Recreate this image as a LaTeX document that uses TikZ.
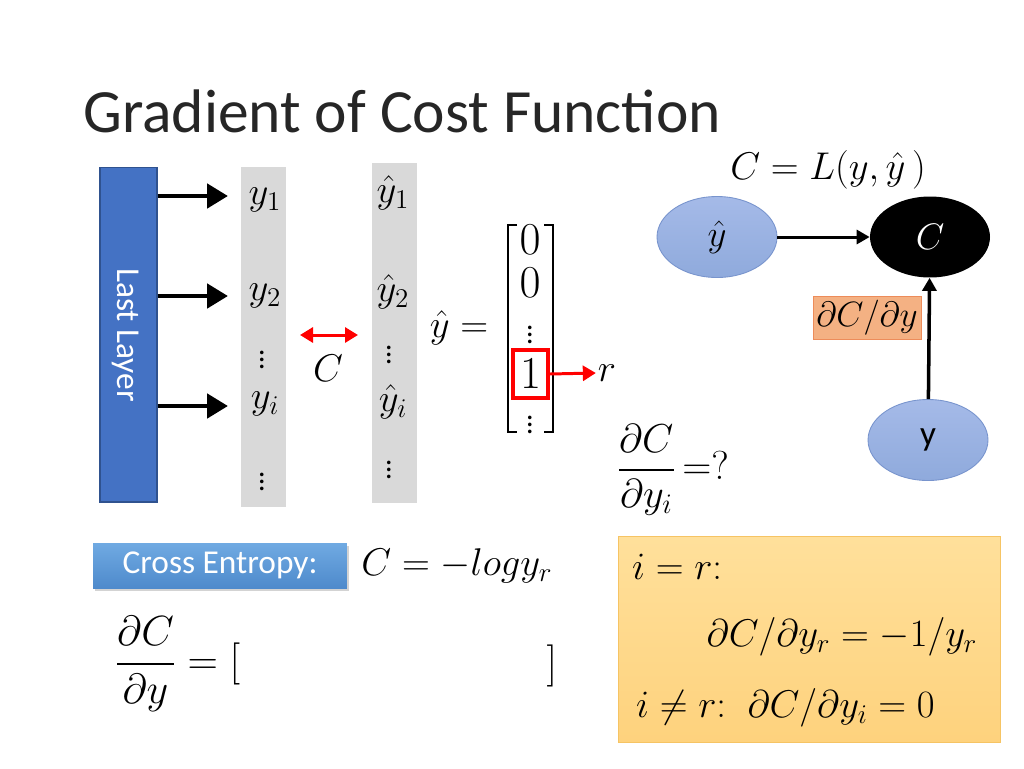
\documentclass[tikz,border=0pt]{standalone}
\usepackage{fix-cm}
\usepackage{amsmath}
\usepackage{fontspec}
\setmainfont{Carlito}
\usetikzlibrary{arrows.meta,shapes,shadows}
\definecolor{layerblue}{RGB}{68,114,196}
\definecolor{layeredge}{RGB}{47,82,143}
\definecolor{colgray}{RGB}{217,217,217}
\definecolor{nodeblue}{RGB}{143,170,220}
\definecolor{nodebluetop}{RGB}{165,186,232}
\definecolor{nodeedge}{RGB}{120,148,205}
\definecolor{gradorange}{RGB}{244,177,131}
\definecolor{gradedge}{RGB}{237,140,90}
\definecolor{cetop}{RGB}{112,170,226}
\definecolor{cebottom}{RGB}{78,138,204}
\definecolor{notetop}{RGB}{255,224,155}
\definecolor{notebottom}{RGB}{254,210,125}
\definecolor{noteedge}{RGB}{246,196,100}
\definecolor{arrowred}{RGB}{255,0,0}

\begin{document}
\begin{tikzpicture}[x=0.02cm, y=-0.02cm,
layer/.style={rectangle, fill=layerblue, draw=layeredge, line width=0.6pt, minimum width=1.14cm, minimum height=6.7cm},
column/.style={rectangle, fill=colgray, minimum width=0.9cm, minimum height=6.8cm},
math node/.style={font=\fontsize{22}{26}\selectfont, inner sep=1pt},
entry/.style={font=\fontsize{26}{30}\selectfont, inner sep=0pt},
dots/.style={font=\fontsize{17}{20}\selectfont, inner sep=0pt},
fat arrow/.style={line width=2.8pt, -{Triangle[length=0.42cm,width=0.48cm]}},
red arrow/.style={arrowred, line width=1.7pt, -{Triangle[length=0.26cm,width=0.3cm]}},
link/.style={line width=1.7pt, -{Triangle[length=0.26cm,width=0.28cm]}},
var node/.style={ellipse, minimum width=2.4cm, minimum height=1.62cm, top color=nodebluetop, bottom color=nodeblue, draw=nodeedge, line width=0.5pt, font=\fontsize{21}{25}\selectfont},
bracket/.style={line width=1.4pt}]
\useasboundingbox (0,0) rectangle (1024,768);

\node[anchor=base west, text=black!85, font=\fontsize{35}{42}\selectfont, inner sep=0pt] (title) at (83,132) {Gradient of Cost Function};

\node[layer] (last) at (128.5,334.5) {};
\node[rotate=-90, text=white, font=\fontsize{19}{23}\selectfont] (lasttext) at (126,335) {Last Layer};
\node[column] (col1) at (263.5,337) {};
\node[column] (col2) at (394.5,333) {};

\node[math node] (y1) at (265,200) {$y_1$};
\node[math node] (y2) at (265,296) {$y_2$};
\node[dots] (y3) at (262,355) {$\vdots$};
\node[math node] (yi) at (265,404) {$y_i$};
\node[dots] (y4) at (262,477) {$\vdots$};
\node[math node] (h1) at (393,193) {$\hat{y}_1$};
\node[math node] (h2) at (393,292) {$\hat{y}_2$};
\node[dots] (h3) at (389,350) {$\vdots$};
\node[math node] (hi) at (393,402) {$\hat{y}_i$};
\node[dots] (h4) at (389,465) {$\vdots$};

\coordinate (t1) at (228,196);
\coordinate (t2) at (228,296);
\coordinate (t3) at (228,406);
\draw[fat arrow] (last.east |- t1) -- (t1);
\draw[fat arrow] (last.east |- t2) -- (t2);
\draw[fat arrow] (last.east |- t3) -- (t3);

\node[math node] (cost1) at (328,368) {$C$};
\coordinate (cl) at (300,335);
\coordinate (cr) at (358,335);
\draw[red arrow, {Triangle[length=0.26cm,width=0.3cm]}-{Triangle[length=0.26cm,width=0.3cm]}] (cl) -- (cr);

\node[math node] (yhat) at (459,328) {$\hat{y} =$};
\draw[bracket] (517,225) -- (508,225) -- (508,432) -- (517,432);
\draw[bracket] (544,225) -- (553,225) -- (553,432) -- (544,432);
\node[entry] (e1) at (530,240) {$0$};
\node[entry] (e2) at (530,283) {$0$};
\node[dots] (e3) at (530,330) {$\vdots$};
\node[entry, draw=arrowred, line width=2.1pt, minimum width=0.7cm, minimum height=0.96cm] (one) at (530.5,374) {$1$};
\node[dots] (e5) at (530,420) {$\vdots$};
\node[math node] (r) at (607,373) {$r$};
\draw[red arrow] (one.east) -- (r.west);

\node[math node] (loss) at (828,170) {$C = L(y,\hat{y}\,)$};
\node[var node] (yh) at (717,237) {$\hat{y}$};
\node[ellipse, minimum width=2.4cm, minimum height=1.62cm, fill=black, text=white, font=\fontsize{21}{25}\selectfont] (cost) at (930,237) {$C$};
\node[var node, font=\fontsize{20}{24}\selectfont] (ytrue) at (928,440) {y};
\draw[link] (yh) -- (cost);
\draw[link, line width=2pt] (ytrue) -- (cost);
\node[rectangle, fill=gradorange, draw=gradedge, line width=0.5pt, minimum width=2.16cm, minimum height=0.86cm, inner sep=1pt, font=\fontsize{20}{24}\selectfont] (grad) at (867,318) {$\partial C/\partial y$};

\node[math node, font=\fontsize{23}{27}\selectfont] (ask) at (673,470) {$\dfrac{\partial C}{\partial y_i}\,{=}?$};

\node[rectangle, top color=cetop, bottom color=cebottom, minimum width=5.08cm, minimum height=0.9cm, text=white, font=\fontsize{19}{23}\selectfont, drop shadow={opacity=0.35, shadow xshift=0.04cm, shadow yshift=-0.05cm}] (ce) at (220,565.5) {Cross Entropy:};
\node[math node] (celoss) at (457,566) {$C = -log y_r$};

\node[math node, anchor=west, font=\fontsize{24}{28}\selectfont] (dcdy) at (113,664) {$\dfrac{\partial C}{\partial y} = [$};
\node[math node, font=\fontsize{24}{28}\selectfont] (close) at (552,666) {$]$};

\node[rectangle, top color=notetop, bottom color=notebottom, draw=noteedge, line width=0.5pt, minimum width=7.64cm, minimum height=4.12cm] (note) at (809,639) {};
\node[math node, anchor=west] (case1) at (630,567) {$i = r{:}$};
\node[math node] (res1) at (842,637) {$\partial C/\partial y_r = -1/y_r$};
\node[math node, anchor=west] (case2) at (634,708) {$i \neq r{:}\;\; \partial C/\partial y_i = 0$};
\end{tikzpicture}
\end{document}
